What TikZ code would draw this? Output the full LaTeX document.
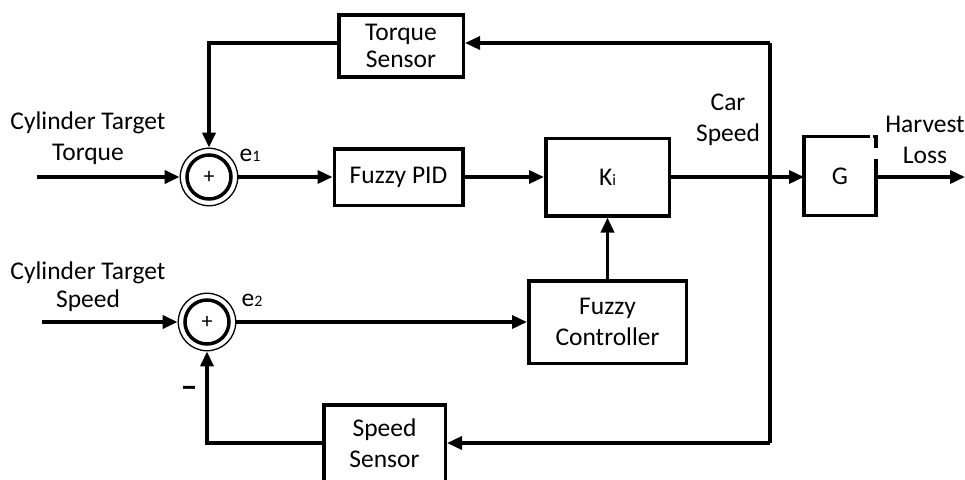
\documentclass[tikz,border=0pt]{standalone}
\usepackage{fontspec}
\setmainfont{Carlito}
\usetikzlibrary{arrows.meta, calc, positioning}

\tikzset{
	blk/.style={draw, line width=3.5pt, align=center, inner sep=0pt},
	wire/.style={line width=3.5pt},
	sig/.style={wire, -{Triangle[length=15pt,width=13pt]}},
	sumnode/.style={circle, draw, line width=1.3pt, minimum size=57.5pt, inner sep=0pt,
		font=\fontsize{22}{22}\selectfont},
	lbl/.style={align=center, inner sep=0pt}
}
\newcommand{\smallsub}[1]{{\fontsize{16}{16}\selectfont #1}}

\begin{document}
\begin{tikzpicture}[x=1pt, y=-1pt, font=\fontsize{25.5}{31}\selectfont]
	\useasboundingbox (0,0) rectangle (965,479);
	\clip (0,0) rectangle (965,479);

	% blocks
	\node[blk, minimum width=124.5pt, minimum height=62pt, font=\fontsize{25.5}{27}\selectfont] (tsens) at (401,46) {Torque\\Sensor};
	\node[blk, minimum width=128.5pt, minimum height=56.5pt] (fpid) at (398.5,177) {Fuzzy PID};
	\node[blk, minimum width=123.5pt, minimum height=77.5pt] (ki) at (607.5,177) {K\smallsub{i}};
	\node[blk, minimum width=157.5pt, minimum height=82.5pt] (fctl) at (607.5,322) {Fuzzy\\Controller};
	\node[blk, minimum width=121.5pt, minimum height=76.5pt] (ssens) at (384.5,443) {Speed\\Sensor};
	\node[inner sep=0pt, outer sep=0pt, minimum width=72pt, minimum height=79pt] (g) at (840,176) {G};
	\draw[wire] ($(g.north east)+(-6,0)$) -- (g.north west) -- (g.south west) -- (g.south east) -- ($(g.north east)+(0,22)$);
	\draw[wire] ($(g.north east)+(-3,0)$) -- (g.north east) -- ($(g.north east)+(0,11)$);

	% summing points
	\node[sumnode] (s1) at (209,177) {+};
	\node[sumnode] (s2) at (207,322) {+};
	\foreach \s in {s1,s2}
		\draw[wire] (\s.center) circle[radius=22pt];

	% signal paths
	\coordinate (in1) at (37,177);
	\coordinate (in2) at (42,322);
	\coordinate (top) at (770,43);
	\coordinate (bot) at (770,443);
	\coordinate (out) at (965,177);
	\draw[sig] (in1) -- (s1);
	\draw[sig] (in2) -- (s2);
	\draw[sig] (s1) -- (fpid);
	\draw[sig] (fpid) -- (ki);
	\draw[sig] (s2) -- (fctl);
	\draw[sig] (fctl) -- (ki);
	\draw[sig] (ki.east) -- (ki.east -| g.west);
	\draw[sig] (g.east |- out) -- (out);
	\draw[wire] (top) -- (bot);
	\draw[sig] (top) -- (top -| tsens.east);
	\draw[sig] (top -| tsens.west) -| (s1);
	\draw[sig] (bot) -- (ssens);
	\draw[sig] (ssens) -| (s2);

	% labels
	\node[lbl] (cyl1) at (88,138) {Cylinder Target\\Torque};
	\node[lbl, font=\fontsize{25.5}{28}\selectfont] (cyl2) at (88,287) {Cylinder Target\\Speed};
	\node[lbl] (e1) at (250,155) {e\smallsub{1}};
	\node[lbl] (e2) at (252,300) {e\smallsub{2}};
	\node[lbl] (car) at (728,120) {Car\\Speed};
	\node[lbl] (harv) at (925,140) {Harvest\\Loss};
	\node[lbl, font=\fontsize{34}{34}\bfseries] (minus) at (189,392) {–};
\end{tikzpicture}
\end{document}
